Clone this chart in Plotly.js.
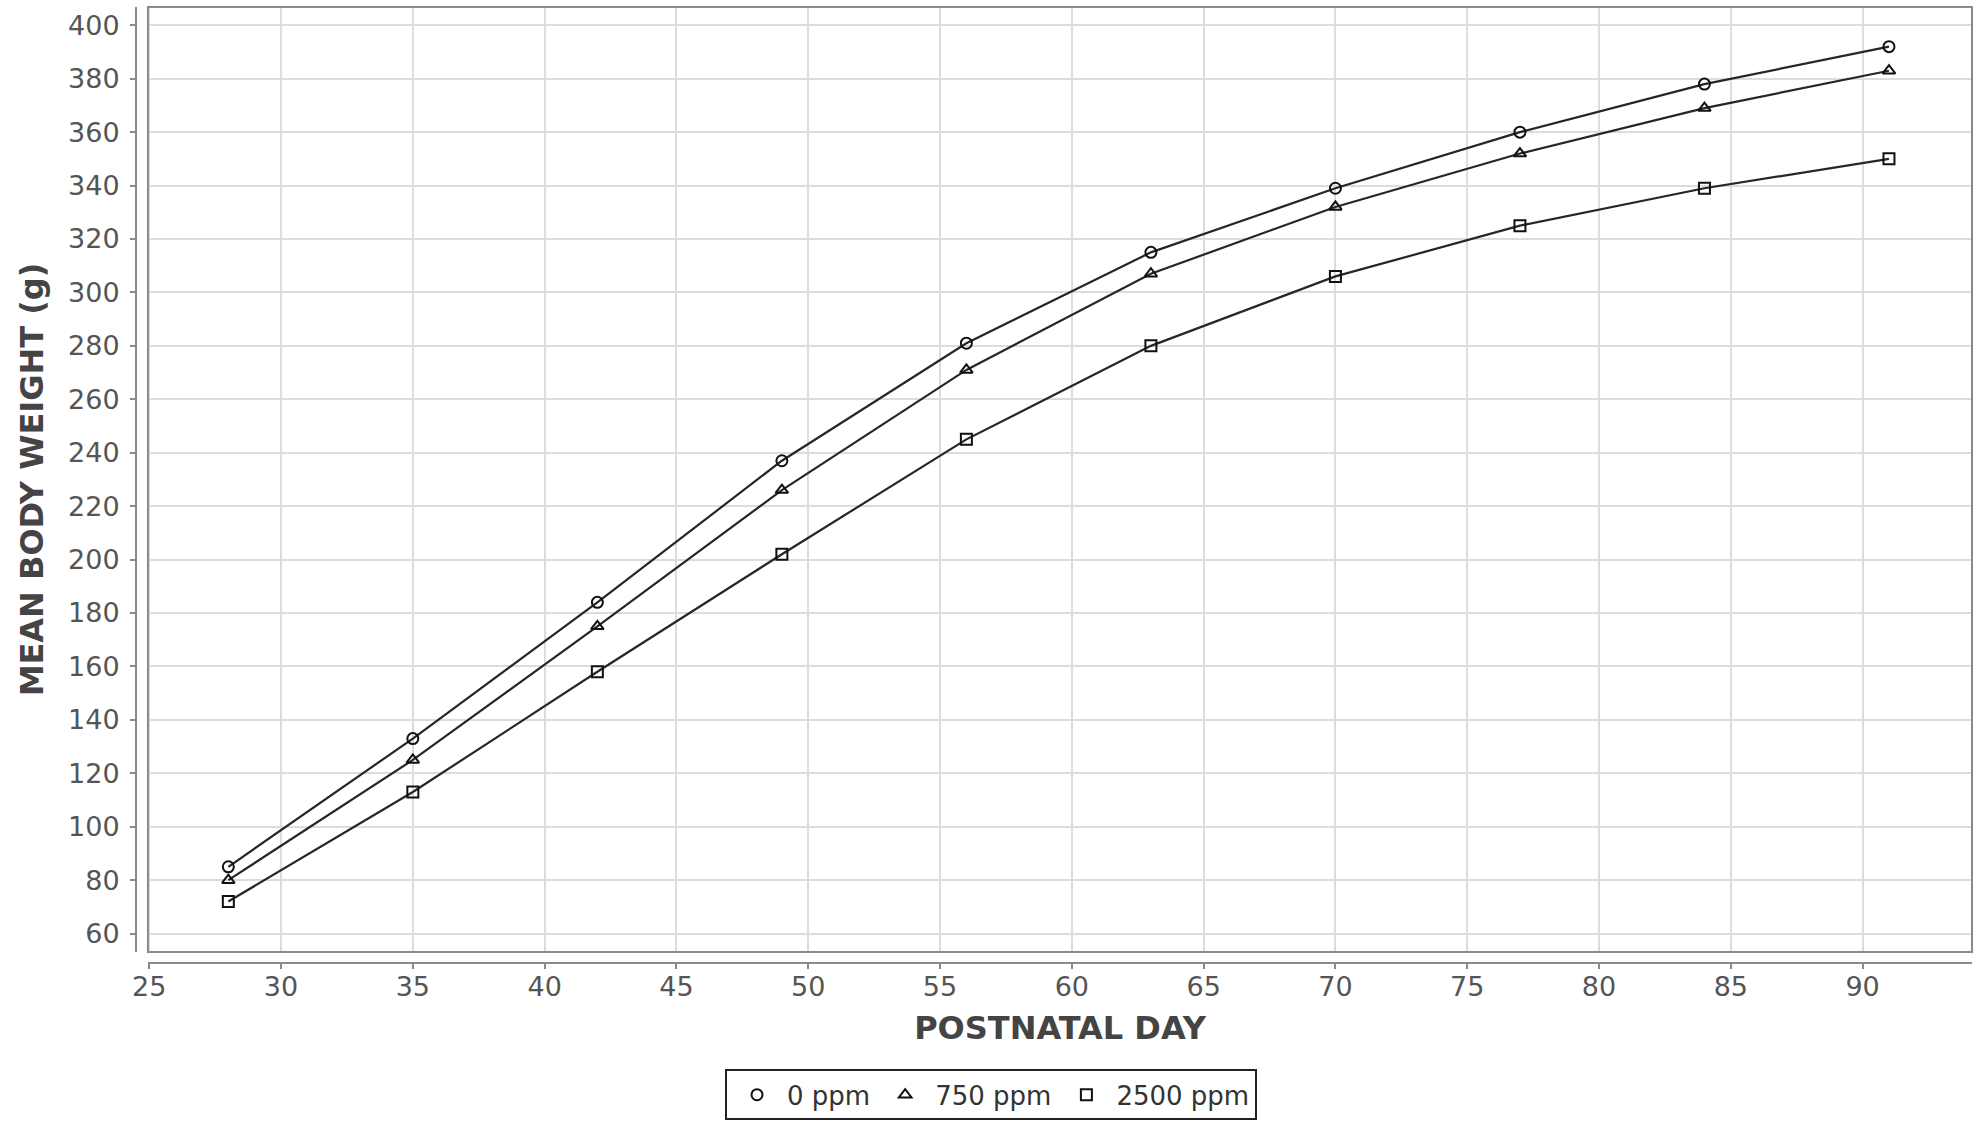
<!DOCTYPE html>
<html>
<head>
<meta charset="utf-8">
<script src="https://cdn.plot.ly/plotly-3.0.1.min.js"></script>
<style>html,body{margin:0;padding:0;background:#fff;}#chart{width:1982px;height:1122px;}</style>
</head>
<body>
<div id="chart"></div>
<script>
const postnatalDay = [28, 35, 42, 49, 56, 63, 70, 77, 84, 91];
const ppm0 = [85, 133, 184, 237, 281, 315, 339, 360, 378, 392];
const ppm750 = [80, 125, 175, 226, 271, 307, 332, 352, 369, 383];
const ppm2500 = [72, 113, 158, 202, 245, 280, 306, 325, 339, 350];
const seriesNames = ["0 ppm", "750 ppm", "2500 ppm"];
const seriesValues = [ppm0, ppm750, ppm2500];
const seriesSymbols = ["circle-open", "triangle-up-open", "square-open"];

const lineColor = "#262626";
const data = [];
// lines (no legend)
seriesValues.forEach(function (vals, i) {
  data.push({
    x: postnatalDay, y: vals, name: seriesNames[i], type: "scatter", mode: "lines",
    line: {color: lineColor, width: 2.2}, showlegend: false, hoverinfo: "skip"
  });
});
// markers (legend shows markers only)
seriesValues.forEach(function (vals, i) {
  data.push({
    x: postnatalDay, y: vals, name: seriesNames[i], type: "scatter", mode: "markers",
    marker: {symbol: seriesSymbols[i], size: 11, color: "#111", line: {color: "#111", width: 2}}
  });
});

const tickFont = {family: "DejaVu Sans", size: 27, color: "#555"};
const layout = {
  width: 1982, height: 1122,
  paper_bgcolor: "#fff", plot_bgcolor: "#fff",
  margin: {l: 136, r: 10, t: 7, b: 159, autoexpand: false},
  showlegend: true,
  xaxis: {
    domain: [0.0065, 1], anchor: "free", position: 0,
    range: [24.95, 94.15], dtick: 5, tick0: 25,
    showgrid: true, gridcolor: "#dcdcdc", gridwidth: 1.5,
    zeroline: false, showline: true, linecolor: "#8a8a8a", linewidth: 2,
    ticks: "outside", ticklen: 5, tickwidth: 2, tickcolor: "#8a8a8a",
    ticklabelstandoff: -5,
    tickfont: tickFont,
    title: {text: "POSTNATAL DAY", font: {family: "DejaVu Sans", size: 32, color: "#444", weight: "bold"}, standoff: 14}
  },
  yaxis: {
    domain: [0.0115, 1], anchor: "free", position: 0,
    range: [53.1, 406.85], dtick: 20, tick0: 0,
    showgrid: true, gridcolor: "#dcdcdc", gridwidth: 1.5,
    zeroline: false, showline: true, linecolor: "#8a8a8a", linewidth: 2,
    ticks: "outside", ticklen: 5, tickwidth: 2, tickcolor: "#8a8a8a",
    ticklabelstandoff: 5,
    tickfont: tickFont,
    title: {text: "MEAN BODY WEIGHT (g)", font: {family: "DejaVu Sans", size: 32, color: "#444", weight: "bold"}, standoff: 14}
  },
  shapes: [{
    type: "rect", xref: "x domain", yref: "y domain", x0: 0, x1: 1, y0: 0, y1: 1,
    line: {color: "#8a8a8a", width: 2}, fillcolor: "rgba(0,0,0,0)", layer: "above"
  }],
  legend: {
    orientation: "h", xref: "container", yref: "container",
    x: 0.5, xanchor: "center", y: 0.0015, yanchor: "bottom",
    bordercolor: "#222", borderwidth: 2, bgcolor: "#fff",
    font: {family: "DejaVu Sans", size: 26, color: "#333"},
    itemwidth: 50
  }
};
Plotly.newPlot("chart", data, layout, {displayModeBar: false, responsive: false});
</script>
</body>
</html>
